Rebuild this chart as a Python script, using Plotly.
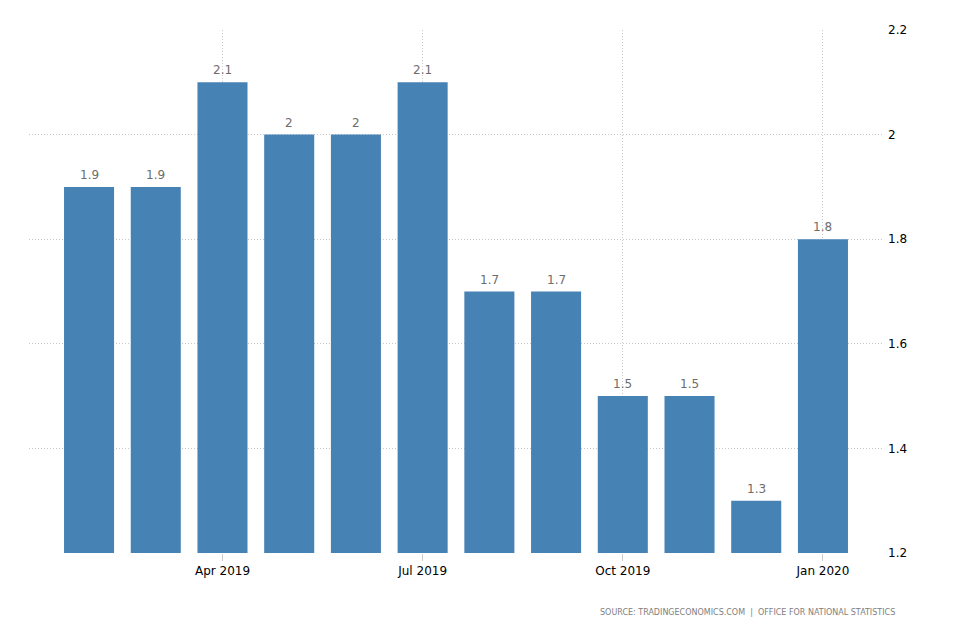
import plotly.graph_objects as go

months = ["Feb 2019", "Mar 2019", "Apr 2019", "May 2019", "Jun 2019", "Jul 2019",
          "Aug 2019", "Sep 2019", "Oct 2019", "Nov 2019", "Dec 2019", "Jan 2020"]
values = [1.9, 1.9, 2.1, 2.0, 2.0, 2.1, 1.7, 1.7, 1.5, 1.5, 1.3, 1.8]
tick_months = ["Apr 2019", "Jul 2019", "Oct 2019", "Jan 2020"]
y_ticks = [1.2, 1.4, 1.6, 1.8, 2.0, 2.2]
y_tick_text = ["1.2", "1.4", "1.6", "1.8", "2", "2.2"]
BASE = 1.2

xs = list(range(len(months)))
tickvals = [months.index(m) for m in tick_months]

FONT = "DejaVu Sans"

fig = go.Figure(go.Bar(
    x=xs, y=[v - BASE for v in values],
    base=BASE,
    marker=dict(color="#4682B4", line=dict(width=0)),
    width=0.75,
    hoverinfo="skip",
))

annotations = [dict(
    x=x, y=v, xref="x", yref="y", text="%g" % v, showarrow=False,
    yanchor="bottom", yshift=3,
    font=dict(family=FONT, size=12, color="#6d6d6d"),
) for x, v in zip(xs, values)]

annotations.append(dict(
    text="SOURCE: TRADINGECONOMICS.COM  |  OFFICE FOR NATIONAL STATISTICS",
    xref="paper", yref="paper", x=1.016, y=-0.113,
    xanchor="right", yanchor="middle", showarrow=False,
    font=dict(family=FONT, size=8, color="#808080"),
))

fig.update_layout(
    width=954, height=636,
    margin=dict(l=29, r=71, t=30, b=83),
    plot_bgcolor="white", paper_bgcolor="white",
    showlegend=False,
    font=dict(family=FONT, size=12, color="#000"),
    xaxis=dict(
        range=[-0.9, 11.9],
        tickmode="array", tickvals=tickvals, ticktext=tick_months,
        showgrid=True, gridcolor="#c8c8c8", griddash="1px,2px", gridwidth=1,
        ticks="outside", ticklen=7, tickcolor="#cccccc",
        showline=False, zeroline=False,
        tickfont=dict(family=FONT, size=12, color="#000"),
    ),
    yaxis=dict(
        range=[1.2, 2.2], side="right",
        tickmode="array", tickvals=y_ticks, ticktext=y_tick_text,
        showgrid=True, gridcolor="#c8c8c8", griddash="1px,2px", gridwidth=1,
        zeroline=False, showline=False, ticks="",
        ticklabelstandoff=4,
        tickfont=dict(family=FONT, size=12, color="#000"),
    ),
    annotations=annotations,
)

fig.write_html("out.html")
